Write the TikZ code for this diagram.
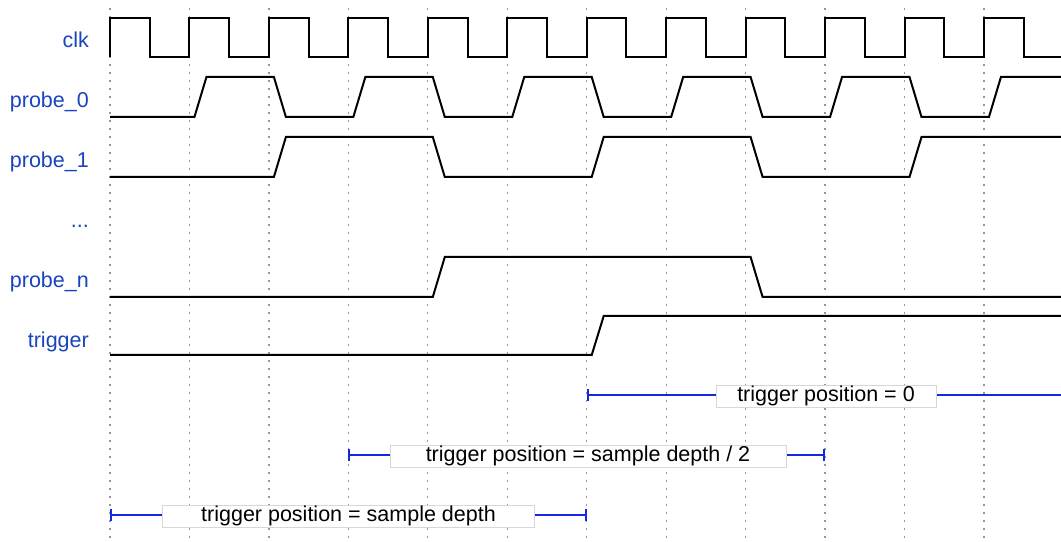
\documentclass[tikz,border=0pt]{standalone}
\usepackage{fontspec}
\setmainfont{Liberation Sans}
\usetikzlibrary{arrows.meta}
\definecolor{lblblue}{RGB}{26,68,190}
\definecolor{barblue}{RGB}{20,40,225}
\definecolor{gridgray}{RGB}{150,150,150}
\definecolor{boxgray}{RGB}{215,215,215}
\tikzset{
  sig/.style={line width=2bp, black, line join=miter},
  grid line/.style={gridgray, line width=1.2bp, dash pattern=on 2bp off 6bp},
  lbl/.style={anchor=base east, text=lblblue, inner sep=0pt, font=\fontsize{21.5bp}{26bp}\selectfont},
  span/.style={barblue, line width=2bp},
  spanbox/.style={draw=boxgray, line width=1bp, fill=white, inner xsep=0pt, inner ysep=0pt,
    text height=16bp, text depth=6bp, font=\fontsize{21.5bp}{26bp}\selectfont},
}
\begin{document}
\begin{tikzpicture}[x=1bp,y=-1bp]
\useasboundingbox (0,0) rectangle (1061,542);
\clip (0,0) rectangle (1061,542);
\fill[white] (0,0) rectangle (1061,542);
% grid
\foreach \k in {0,...,11}{
  \draw[grid line] ({110+79.45*\k},8) -- ({110+79.45*\k},542);
}
% labels
\node[lbl] (lclk) at (89,48) {clk};
\node[lbl] (lp0) at (89,108) {probe\_0};
\node[lbl] (lp1) at (89,168) {probe\_1};
\node[lbl] (ldots) at (89,228) {...};
\node[lbl] (lpn) at (89,288) {probe\_n};
\node[lbl] (ltrig) at (89,348) {trigger};
% clock
\draw[sig] (110,57) foreach \k in {0,...,11}{
  -- ({110+79.45*\k},18) -- ({149.72+79.45*\k},18) -- ({149.72+79.45*\k},57) -- ({189.45+79.45*\k},57) };
% probe_0
\draw[sig] (110,117) foreach \k/\a/\b in {1/117/77,2/77/117,3/117/77,4/77/117,5/117/77,6/77/117,7/117/77,8/77/117,9/117/77,10/77/117,11/117/77}{
  -- ({115+79.45*\k},\a) -- ({127+79.45*\k},\b) } -- (1061,77);
% probe_1
\draw[sig] (110,177) foreach \k/\a/\b in {2/177/137,4/137/177,6/177/137,8/137/177,10/177/137}{
  -- ({115+79.45*\k},\a) -- ({127+79.45*\k},\b) } -- (1061,137);
% probe_n
\draw[sig] (110,297) foreach \k/\a/\b in {4/297/257,8/257/297}{
  -- ({115+79.45*\k},\a) -- ({127+79.45*\k},\b) } -- (1061,297);
% trigger
\draw[sig] (110,355) foreach \k/\a/\b in {6/355/316}{
  -- ({115+79.45*\k},\a) -- ({127+79.45*\k},\b) } -- (1061,316);
% spans
\coordinate (s1a) at (586.7,395);
\coordinate (s1b) at (1063.4,395);
\coordinate (s2a) at (348.35,455);
\coordinate (s2b) at (825.05,455);
\coordinate (s3a) at (110,515);
\coordinate (s3b) at (586.7,515);
\draw[span, {Bar[width=12bp]}-] (s1a) -- (s1b);
\draw[span, {Bar[width=12bp]}-{Bar[width=12bp]}] (s2a) -- (s2b);
\draw[span, {Bar[width=12bp]}-{Bar[width=12bp]}] (s3a) -- (s3b);
\node[spanbox, minimum width=220bp] (b1) at (826,396) {trigger position = 0};
\node[spanbox, minimum width=396bp] (b2) at (588,456) {trigger position = sample depth / 2};
\node[spanbox, minimum width=371bp] (b3) at (348.5,516) {trigger position = sample depth};
\end{tikzpicture}
\end{document}
